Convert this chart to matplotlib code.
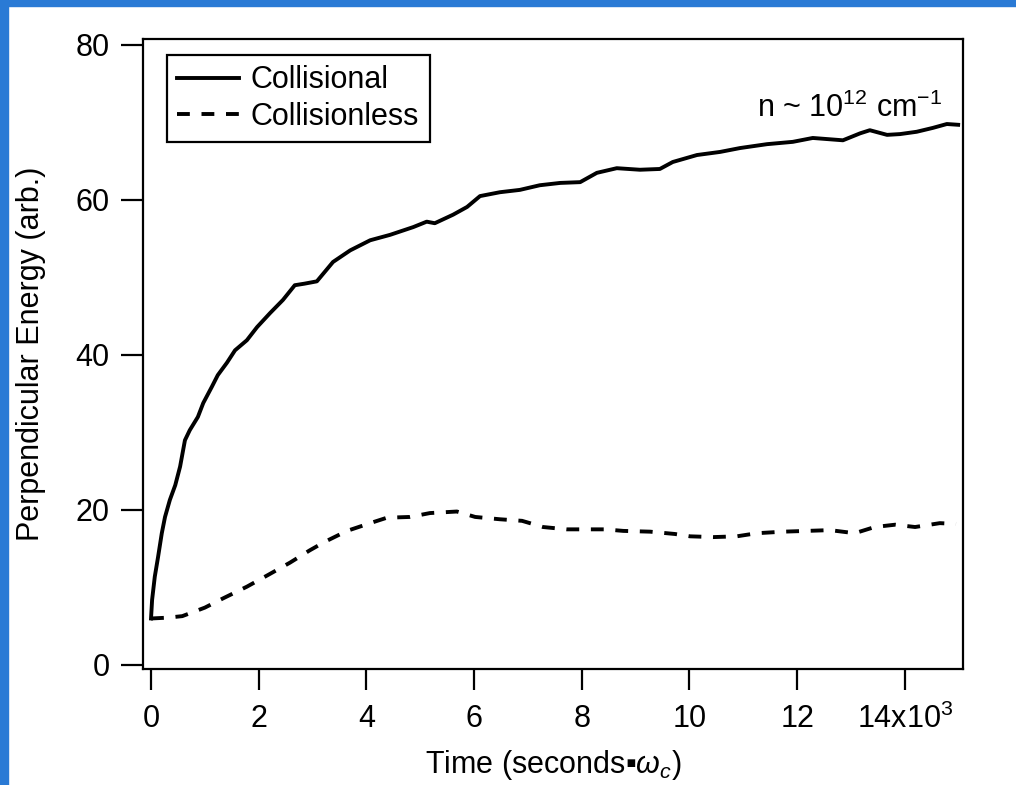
import numpy as np
import matplotlib
matplotlib.use("Agg")
import matplotlib.pyplot as plt
from matplotlib.patches import Rectangle

plt.rcParams["font.family"] = ["Liberation Sans", "DejaVu Sans"]
plt.rcParams["mathtext.fontset"] = "custom"
plt.rcParams["mathtext.rm"] = "Liberation Sans"
plt.rcParams["mathtext.it"] = "Liberation Sans:italic"
plt.rcParams["mathtext.fallback"] = "stixsans"

# time in units of 10^3 seconds*omega_c
t_coll = [0.0, 0.02, 0.07, 0.13, 0.20, 0.26, 0.35, 0.45, 0.54, 0.63, 0.72, 0.87,
          0.97, 1.13, 1.24, 1.41, 1.56, 1.78, 1.97, 2.21, 2.45, 2.67, 2.85, 3.08,
          3.38, 3.70, 4.07, 4.44, 4.87, 5.12, 5.27, 5.61, 5.87, 6.11, 6.48, 6.85,
          7.22, 7.60, 7.97, 8.28, 8.65, 9.08, 9.45, 9.69, 10.14, 10.57, 10.94,
          11.44, 11.92, 12.29, 12.85, 13.17, 13.35, 13.67, 13.91, 14.22, 14.52,
          14.78, 14.99]
e_coll = [6.0, 8.4, 11.4, 13.9, 17.0, 19.1, 21.3, 23.2, 25.6, 29.0, 30.3, 32.0,
          33.8, 35.9, 37.4, 39.0, 40.6, 41.9, 43.6, 45.4, 47.1, 49.0, 49.2, 49.5,
          52.0, 53.5, 54.8, 55.5, 56.5, 57.2, 57.0, 58.1, 59.1, 60.5, 61.0, 61.3,
          61.9, 62.2, 62.3, 63.5, 64.1, 63.9, 64.0, 64.9, 65.8, 66.2, 66.7,
          67.2, 67.5, 68.0, 67.7, 68.6, 69.0, 68.4, 68.5, 68.8, 69.3,
          69.8, 69.7]

t_free = [0.0, 0.3, 0.58, 1.0, 1.34, 1.78, 2.17, 2.58, 2.95, 3.23, 3.64, 4.07,
          4.38, 4.81, 5.18, 5.68, 6.02, 6.48, 6.89, 7.28, 7.72, 8.15, 8.43, 8.77,
          9.27, 9.73, 10.01, 10.44, 10.88, 11.25, 11.74, 12.18, 12.61, 13.07,
          13.44, 13.82, 14.19, 14.65, 14.95]
e_free = [6.0, 6.1, 6.3, 7.4, 8.6, 10.1, 11.6, 13.2, 14.8, 15.9, 17.3, 18.3,
          19.0, 19.1, 19.6, 19.8, 19.1, 18.8, 18.6, 17.8, 17.5, 17.5, 17.5, 17.3,
          17.2, 16.9, 16.6, 16.5, 16.6, 17.0, 17.2, 17.3, 17.4, 17.0,
          17.8, 18.1, 17.8, 18.3, 18.2]

x_ticks = [0, 2, 4, 6, 8, 10, 12, 14]
x_tick_labels = ["0", "2", "4", "6", "8", "10", "12", "14x10$^{3}$"]
y_ticks = [0, 20, 40, 60, 80]

fig = plt.figure(figsize=(10.16, 7.85), dpi=100)
fig.patch.set_facecolor("white")
# blue frame strips along the left and top edges
fig.patches.append(Rectangle((0, 0), 8 / 1016, 1, transform=fig.transFigure,
                             color="#2a7ad5", zorder=0))
fig.patches.append(Rectangle((0, 1 - 6 / 785), 1, 6 / 785, transform=fig.transFigure,
                             color="#2a7ad5", zorder=0))

ax = fig.add_axes([143 / 1016, 116 / 785, 820 / 1016, 630 / 785])
ax.plot(t_coll, e_coll, color="black", lw=2.8, label="Collisional")
ax.plot(t_free, e_free, color="black", lw=2.8, dashes=(3.3, 3.0),
        label="Collisionless")

ax.set_xlim(-0.149, 15.08)
ax.set_ylim(-0.52, 80.77)
ax.set_xticks(x_ticks)
ax.set_xticklabels(x_tick_labels)
ax.set_yticks(y_ticks)

for side in ax.spines.values():
    side.set_linewidth(1.6)
ax.tick_params(axis="both", direction="out", width=1.6, labelsize=22)
ax.tick_params(axis="x", length=15, pad=10)
ax.tick_params(axis="y", length=16, pad=8)

fig.text(553 / 1016, (785 - 773) / 785, r"Time (seconds▪$\omega_c$)",
         fontsize=22, ha="center", va="baseline")
fig.text(31 / 1016, (785 - 354) / 785, "Perpendicular Energy (arb.)",
         fontsize=22, ha="center", va="center", rotation=90)

ax.text(11.25, 70.7, r"n ~ $10^{12}$ cm$^{-1}$", fontsize=22, va="baseline")

leg = ax.legend(loc="upper left", bbox_to_anchor=(0.029, 0.975), borderaxespad=0,
                fontsize=22, handlelength=2.0, handletextpad=0.4, borderpad=0.35,
                labelspacing=0.2, fancybox=False, framealpha=1, edgecolor="black")
leg.get_frame().set_linewidth(1.6)

fig.savefig("out.png", dpi=100)
